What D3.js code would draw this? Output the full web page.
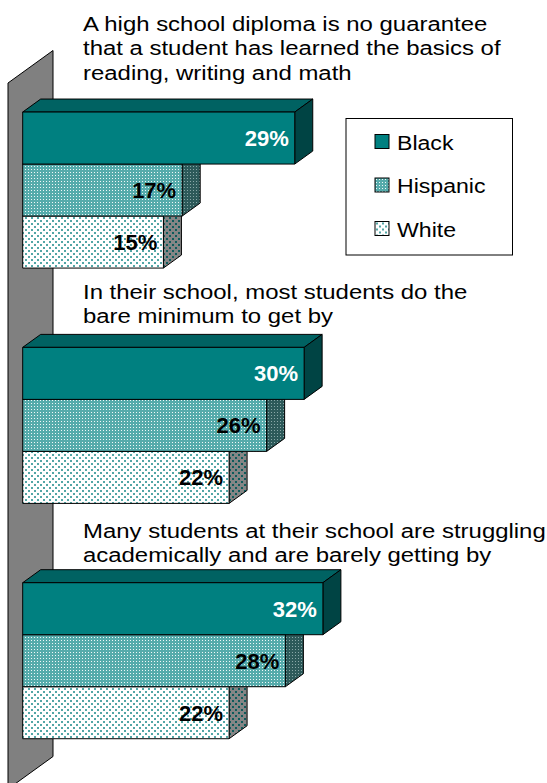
<!DOCTYPE html>
<html>
<head>
<meta charset="utf-8">
<script src="https://cdn.jsdelivr.net/npm/d3@7"></script>
<style>
  body { margin: 0; background: #fff; }
  text { font-family: "Liberation Sans", Arial, sans-serif; }
</style>
</head>
<body>
<div id="chart"></div>
<script>
// data
const categories = ["diploma", "minimum", "struggling"];
const categoryLines = [
    ["A high school diploma is no guarantee", "that a student has learned the basics of", "reading, writing and math"],
    ["In their school, most students do the", "bare minimum to get by"],
    ["Many students at their school are struggling", "academically and are barely getting by"]
];
const series = ["Black", "Hispanic", "White"];
const black = [29, 30, 32];
const hispanic = [17, 26, 28];
const white = [15, 22, 22];

const width = 547, height = 783;
const values = { Black: black, Hispanic: hispanic, White: white };

// 3d projection: depth offset per unit of depth
const depthX = 1, depthY = -0.722;
const wallDepth = 45, barZ0 = 14.7, barZ1 = 32.7;
const labelBaseline = [31, 299, 538];

const svg = d3.select("#chart").append("svg")
    .attr("width", width).attr("height", height);

// patterns
const defs = svg.append("defs");
function pattern(id, size, bg, dots, dotColor, r) {
    const p = defs.append("pattern").attr("id", id)
        .attr("patternUnits", "userSpaceOnUse")
        .attr("width", size).attr("height", size);
    p.append("rect").attr("width", size).attr("height", size)
        .attr("fill", bg).attr("shape-rendering", "crispEdges");
    dots.forEach(d => p.append("rect")
        .attr("x", d[0]).attr("y", d[1]).attr("width", r).attr("height", r)
        .attr("fill", dotColor).attr("shape-rendering", "crispEdges"));
}
pattern("hispFront", 3, "#55abab", [[1, 1]], "#f0f8f8", 1);
pattern("hispTop", 3, "#006a6a", [[1, 1]], "#9fcfcf", 1);
pattern("hispSide", 3, "#2d5a5a", [[1, 1]], "#8aa8a8", 1);
pattern("whiteFront", 6, "#ffffff", [[1, 1], [4, 4]], "#52a6a6", 1.5);
pattern("whiteTop", 6, "#e8f2f2", [[1, 1], [4, 4]], "#1a7070", 1.5);
pattern("whiteSide", 6, "#858585", [[1, 1], [4, 4]], "#0e5c5c", 2);

const fills = {
    Black: { front: "#008080", top: "#006262", side: "#004444" },
    Hispanic: { front: "url(#hispFront)", top: "url(#hispTop)", side: "url(#hispSide)" },
    White: { front: "url(#whiteFront)", top: "url(#whiteTop)", side: "url(#whiteSide)" }
};

// scales (positions at depth 0)
const x = d3.scaleLinear().domain([0, 32]).range([8, 308.2]);
const y = d3.scaleBand().domain(categories).range([83, 789])
    .paddingInner(0.337).paddingOuter(0.1685);
const ySeries = d3.scaleBand().domain(series).range([0, y.bandwidth()]);

function pt(px, py, z) {
    return [px + z * depthX, py + z * depthY];
}
function poly(points) {
    return points.map(p => p.join(",")).join(" ");
}

// side wall at value 0
const y0 = y.range()[0], y1 = y.range()[1];
svg.append("polygon")
    .attr("points", poly([pt(x(0), y0, 0), pt(x(0), y0, wallDepth),
                          pt(x(0), y1, wallDepth), pt(x(0), y1, 0)]))
    .attr("fill", "#808080")
    .attr("stroke", "#000")
    .attr("stroke-width", 1);

// bars
categories.forEach((cat, ci) => {
    series.slice().reverse().forEach(s => {
        const v = values[s][ci];
        const top = y(cat) + ySeries(s);
        const bot = top + ySeries.bandwidth();
        const x0 = x(0), x1 = x(v);
        const g = svg.append("g");
        g.append("polygon")
            .attr("points", poly([pt(x0, top, barZ0), pt(x0, top, barZ1), pt(x1, top, barZ1), pt(x1, top, barZ0)]))
            .attr("fill", fills[s].top).attr("stroke", "#000");
        g.append("polygon")
            .attr("points", poly([pt(x1, top, barZ0), pt(x1, top, barZ1), pt(x1, bot, barZ1), pt(x1, bot, barZ0)]))
            .attr("fill", fills[s].side).attr("stroke", "#000");
        g.append("polygon")
            .attr("points", poly([pt(x0, top, barZ0), pt(x1, top, barZ0), pt(x1, bot, barZ0), pt(x0, bot, barZ0)]))
            .attr("fill", fills[s].front).attr("stroke", "#000");
    });
});

// value labels
categories.forEach((cat, ci) => {
    series.forEach(s => {
        const v = values[s][ci];
        const mid = y(cat) + ySeries(s) + ySeries.bandwidth() / 2;
        const p = pt(x(v), mid, barZ0);
        svg.append("text")
            .attr("x", p[0] - 6)
            .attr("y", p[1] + 8)
            .attr("text-anchor", "end")
            .attr("font-size", 22)
            .attr("font-weight", "bold")
            .attr("fill", s === "Black" ? "#fff" : "#000")
            .text(v + "%");
    });
});

// category labels
categoryLines.forEach((lines, ci) => {
    const t = svg.append("text")
        .attr("transform", `translate(83,${labelBaseline[ci]}) scale(1.14,1)`)
        .attr("font-size", 21)
        .attr("fill", "#000");
    lines.forEach((line, li) => {
        t.append("tspan").attr("x", 0).attr("dy", li === 0 ? 0 : 24.3).text(line);
    });
});

// legend
const legend = svg.append("g").attr("transform", "translate(346,118.5)");
legend.append("rect")
    .attr("width", 166.5).attr("height", 136.5)
    .attr("fill", "#fff").attr("stroke", "#000");
series.forEach((s, i) => {
    const row = legend.append("g").attr("transform", `translate(29,${16 + i * 43.5})`);
    row.append("rect")
        .attr("width", 14).attr("height", 14)
        .attr("fill", fills[s].front).attr("stroke", "#000");
    row.append("text")
        .attr("transform", "translate(22,15) scale(1.1,1)")
        .attr("font-size", 21)
        .text(s);
});
</script>
</body>
</html>
